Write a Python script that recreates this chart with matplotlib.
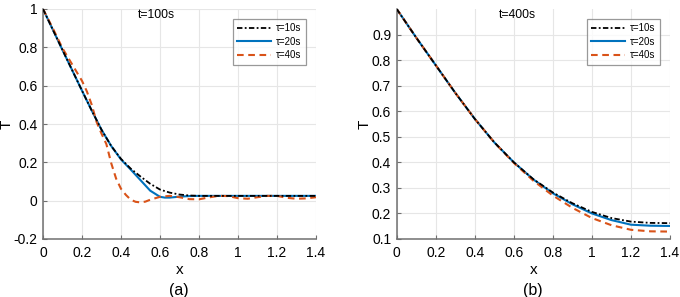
import matplotlib
matplotlib.use("Agg")
import matplotlib.pyplot as plt
from matplotlib.transforms import blended_transform_factory

plt.rcParams['font.family'] = ['Liberation Sans', 'DejaVu Sans']

# ---------------- data: panel (a) t=100s ----------------
xa_10 = [0, 0.05, 0.1, 0.15, 0.2, 0.25, 0.3, 0.35, 0.4, 0.45, 0.5, 0.55, 0.6, 0.65, 0.7,
         0.75, 0.8, 0.9, 1.0, 1.1, 1.2, 1.3, 1.4]
ya_10 = [1.0, 0.893, 0.786, 0.68, 0.574, 0.47, 0.37, 0.285, 0.218, 0.167, 0.126, 0.088, 0.058,
         0.042, 0.032, 0.027, 0.025, 0.025, 0.025, 0.025, 0.025, 0.025, 0.025]

xa_20 = [0, 0.05, 0.1, 0.15, 0.2, 0.25, 0.3, 0.35, 0.4, 0.45, 0.5, 0.55, 0.6, 0.625, 0.65,
         0.7, 0.75, 0.8, 0.9, 1.0, 1.1, 1.2, 1.3, 1.4]
ya_20 = [1.0, 0.893, 0.786, 0.68, 0.574, 0.47, 0.37, 0.285, 0.215, 0.162, 0.107, 0.052, 0.02,
         0.016, 0.016, 0.021, 0.024, 0.025, 0.025, 0.025, 0.025, 0.025, 0.025, 0.025]

xa_40 = [0, 0.05, 0.1, 0.15, 0.2, 0.225, 0.25, 0.275, 0.3, 0.325, 0.35, 0.375, 0.4, 0.425,
         0.45, 0.475, 0.5, 0.525, 0.55, 0.6, 0.65, 0.7, 0.75, 0.8, 0.85, 0.9, 0.95, 1.0,
         1.05, 1.1, 1.15, 1.2, 1.25, 1.3, 1.35, 1.4]
ya_40 = [1.0, 0.9, 0.795, 0.71, 0.625, 0.57, 0.5, 0.41, 0.35, 0.295, 0.195, 0.115, 0.062, 0.03,
         0.005, -0.006, -0.009, -0.005, 0.005, 0.02, 0.025, 0.018, 0.008, 0.007, 0.017, 0.025,
         0.024, 0.013, 0.01, 0.018, 0.025, 0.025, 0.015, 0.01, 0.012, 0.018]

# ---------------- data: panel (b) t=400s ----------------
xb = [0, 0.1, 0.2, 0.3, 0.4, 0.5, 0.6, 0.7, 0.8, 0.9, 1.0, 1.1, 1.2, 1.3, 1.4]
yb_10 = [1.0, 0.888, 0.78, 0.672, 0.57, 0.478, 0.40, 0.334, 0.282, 0.240, 0.206, 0.182, 0.168, 0.163, 0.162]
yb_20 = [1.0, 0.888, 0.78, 0.672, 0.57, 0.478, 0.40, 0.333, 0.279, 0.236, 0.200, 0.174, 0.156, 0.152, 0.151]
yb_40 = [1.0, 0.888, 0.78, 0.672, 0.57, 0.478, 0.398, 0.328, 0.270, 0.222, 0.182, 0.154, 0.136, 0.130, 0.129]

labels = ['τ=10s', 'τ=20s', 'τ=40s']
titles = ['t=100s', 't=400s']
panel_tags = ['(a)', '(b)']

xticks = [0, 0.2, 0.4, 0.6, 0.8, 1.0, 1.2, 1.4]
xticklabels = ['0', '0.2', '0.4', '0.6', '0.8', '1', '1.2', '1.4']
yticks_a = [-0.2, 0, 0.2, 0.4, 0.6, 0.8, 1.0]
yticklabels_a = ['-0.2', '0', '0.2', '0.4', '0.6', '0.8', '1']
yticks_b = [0.1, 0.2, 0.3, 0.4, 0.5, 0.6, 0.7, 0.8, 0.9]
yticklabels_b = ['0.1', '0.2', '0.3', '0.4', '0.5', '0.6', '0.7', '0.8', '0.9']

C_BLACK = '#000000'
C_BLUE = '#0072BD'
C_RED = '#D95319'
LS_DASHDOT = (0, (3.0, 1.3, 1.0, 1.3))
LS_DASH = (0, (3.2, 2.2))

fig = plt.figure(figsize=(6.8, 2.97), dpi=100)
W, H = 680, 297
axA = fig.add_axes([43 / W, (H - 239) / H, 273 / W, 230 / H])
axB = fig.add_axes([396.7 / W, (H - 239) / H, 273.3 / W, 230 / H])


def style(ax, yticks, yticklabels, ylim):
    ax.set_xlim(0, 1.4)
    ax.set_ylim(*ylim)
    ax.set_xticks(xticks)
    ax.set_xticklabels(xticklabels)
    ax.set_yticks(yticks)
    ax.set_yticklabels(yticklabels)
    ax.grid(True, color='#e6e6e6', linewidth=0.8)
    ax.set_axisbelow(True)
    for s in ['top', 'right']:
        ax.spines[s].set_visible(False)
    for s in ['left', 'bottom']:
        ax.spines[s].set_color('#707070')
        ax.spines[s].set_linewidth(1.1)
    ax.tick_params(direction='in', length=3, width=0.8, color='#707070',
                   labelsize=10)
    ax.tick_params(axis='x', pad=5)
    ax.tick_params(axis='y', pad=4)
    ax.set_xlabel('x', fontsize=11, labelpad=2)
    ax.set_ylabel('T', fontsize=11, labelpad=0)


lw = 1.5
axA.plot(xa_10, ya_10, color=C_BLACK, linestyle=LS_DASHDOT, linewidth=1.3, label=labels[0], zorder=3)
axA.plot(xa_20, ya_20, color=C_BLUE, linestyle='-', linewidth=lw, label=labels[1], zorder=2)
axA.plot(xa_40, ya_40, color=C_RED, linestyle=LS_DASH, linewidth=lw, label=labels[2], zorder=2)
style(axA, yticks_a, yticklabels_a, (-0.2, 1.0))

axB.plot(xb, yb_10, color=C_BLACK, linestyle=LS_DASHDOT, linewidth=1.3, label=labels[0], zorder=3)
axB.plot(xb, yb_20, color=C_BLUE, linestyle='-', linewidth=lw, label=labels[1], zorder=2)
axB.plot(xb, yb_40, color=C_RED, linestyle=LS_DASH, linewidth=lw, label=labels[2], zorder=2)
style(axB, yticks_b, yticklabels_b, (0.1, 1.0))

for ax, title, tx in [(axA, titles[0], 0.58), (axB, titles[1], 0.62)]:
    tr = blended_transform_factory(ax.transData, ax.transAxes)
    ax.text(tx, 1.0, title, transform=tr, ha='center', va='top', fontsize=8.8)
    leg = ax.legend(loc='upper right', fontsize=7, frameon=True, fancybox=False,
                    handlelength=3.5, handletextpad=0.5, borderpad=0.45, labelspacing=0.35,
                    borderaxespad=0.0, bbox_to_anchor=(1 - 10 / 273, 1 - 10 / 230))
    leg.get_frame().set_edgecolor('#808080')
    leg.get_frame().set_linewidth(0.9)

fig.text(179 / W, 1 - 290 / H, panel_tags[0], ha='center', va='center', fontsize=11.5)
fig.text(533 / W, 1 - 290 / H, panel_tags[1], ha='center', va='center', fontsize=11.5)

fig.savefig('out.png', dpi=100)
